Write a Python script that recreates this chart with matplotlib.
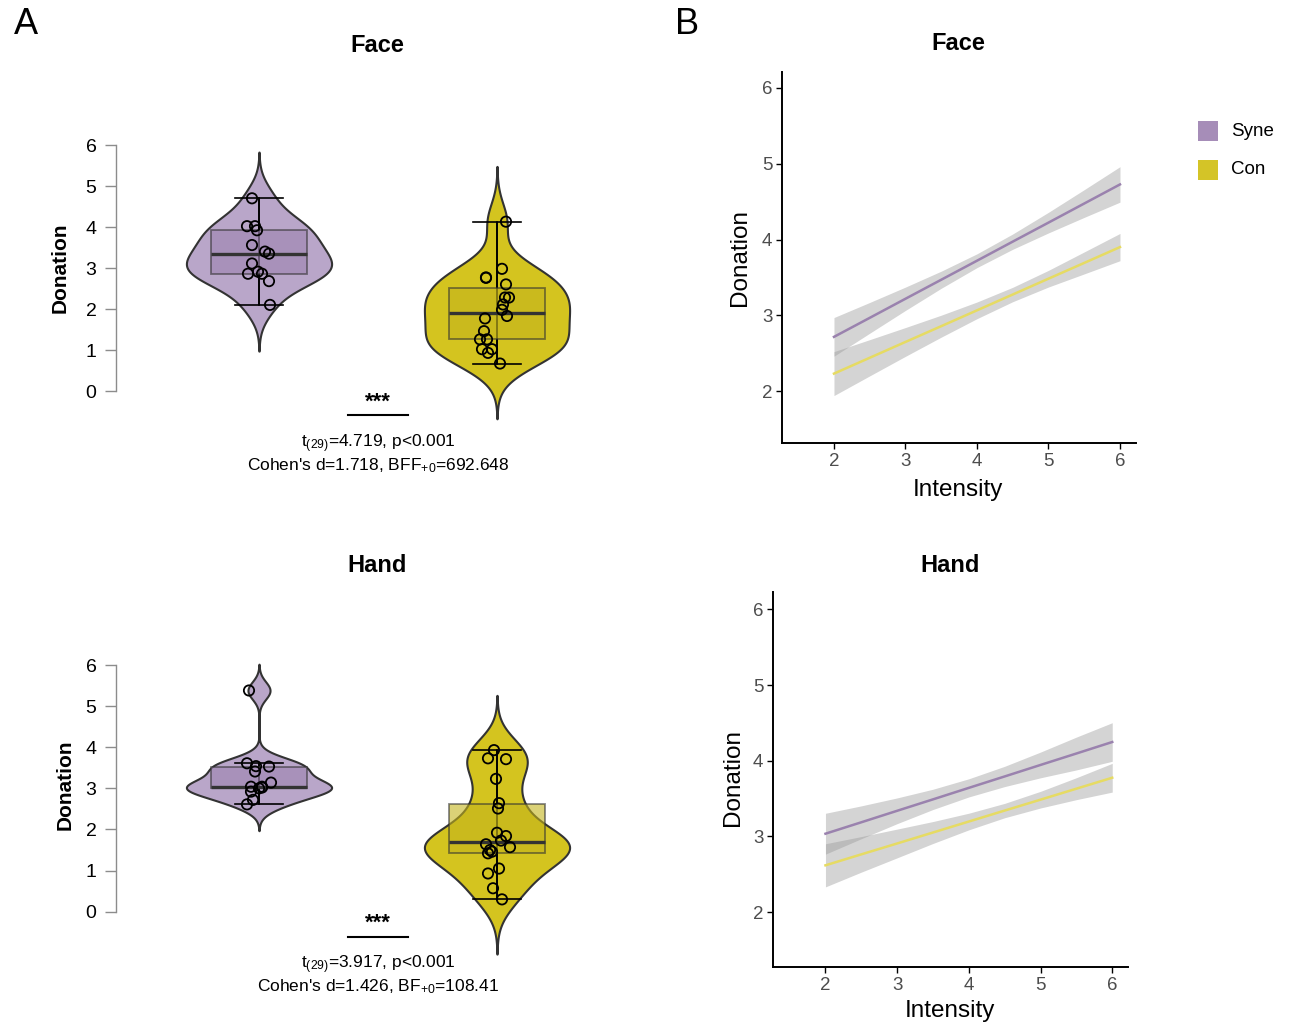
import numpy as np
import matplotlib
matplotlib.use("Agg")
import matplotlib.pyplot as plt
from matplotlib.lines import Line2D

plt.rcParams.update({"font.family": ["Liberation Sans", "DejaVu Sans"], "mathtext.default": "regular"})

W, H = 1291, 1023
SYNE_V = "#B9A6C9"; SYNE_B = "#9D84B0"; CON_V = "#D4C41F"; CON_B = "#C4B41C"
SYNE_L = "#9A82AE"; CON_L = "#E6DB63"; SYNE_LEG = "#A68DB8"; CON_LEG = "#D4C427"
EDGE = "#333333"

groups = ["Syne", "Con"]

# ---- panel A: individual donations (value, jitter offset in px)
face_syne = [4.70, 4.02, 4.02, 3.92, 3.56, 3.40, 3.35, 3.11, 2.86, 2.91, 2.86, 2.68, 2.10]
face_syne_dx = [-7, -12, -4, -2, -7, 6, 10, -7, -11, -1, 3, 10, 11]
face_con = [4.13, 2.76, 2.77, 2.98, 2.60, 2.28, 2.28, 2.11, 1.98, 1.83, 1.77, 1.46, 1.26, 1.26, 1.02, 1.02, 0.93, 0.67]
face_con_dx = [9, -11, -11, 5, 9, 8, 12, 6, 5, 10, -12, -13, -17, -10, -5, -15, -9, 3]
hand_syne = [5.38, 3.61, 3.54, 3.53, 3.41, 3.14, 3.04, 3.04, 3.00, 3.02, 2.92, 2.72, 2.61]
hand_syne_dx = [-10, -12, -3, 10, -4, 12, 3, -8, 0, 3, -8, -6, -12]
hand_con = [3.93, 3.73, 3.71, 3.23, 2.64, 2.51, 1.92, 1.84, 1.73, 1.64, 1.57, 1.50, 1.46, 1.42, 1.05, 0.93, 0.57, 0.30]
hand_con_dx = [-3, -9, 9, -1, 2, 1, 0, 9, 4, -11, 13, -7, -5, -9, 2, -9, -4, 5]

# ---- panel B: fitted lines and 95% bands read at these intensities
intensity = [2, 2.5, 3, 3.5, 4, 4.5, 5, 5.5, 6]
face_syne_fit = [2.715, 2.966, 3.218, 3.469, 3.72, 3.972, 4.223, 4.475, 4.727]
face_syne_hw = [0.255, 0.203, 0.154, 0.113, 0.091, 0.101, 0.136, 0.183, 0.234]
face_con_fit = [2.23, 2.439, 2.648, 2.856, 3.065, 3.274, 3.483, 3.691, 3.90]
face_con_hw = [0.29, 0.239, 0.19, 0.145, 0.11, 0.095, 0.11, 0.145, 0.18]
hand_syne_fit = [3.035, 3.186, 3.338, 3.489, 3.641, 3.792, 3.944, 4.095, 4.247]
hand_syne_hw = [0.27, 0.217, 0.17, 0.134, 0.12, 0.134, 0.17, 0.217, 0.255]
hand_con_fit = [2.617, 2.762, 2.906, 3.051, 3.196, 3.341, 3.485, 3.630, 3.775]
hand_con_hw = [0.285, 0.235, 0.19, 0.145, 0.11, 0.095, 0.11, 0.145, 0.19]

fig = plt.figure(figsize=(W / 100, H / 100), dpi=100)

def px_axes(l, t, r, b):
    return fig.add_axes([l / W, 1 - b / H, (r - l) / W, (b - t) / H])

def ftext(x, y, s, **kw):
    fig.text(x / W, 1 - y / H, s, ha=kw.pop("ha", "center"), va=kw.pop("va", "center"), **kw)

def nrd0(v):
    v = np.asarray(v)
    iqr = np.subtract(*np.percentile(v, [75, 25]))
    return 0.9 * min(v.std(ddof=1), iqr / 1.34) * len(v) ** -0.2

PXU = 238.0  # px per category unit

def violin_panel(l, t, r, b, zero_px, six_px, data, dxs):
    ax = px_axes(l, t, r, b)
    upx = (zero_px - six_px) / 6
    ax.set_xlim(1 + (l - 259) / PXU, 1 + (r - 259) / PXU)
    ax.set_ylim(-(b - zero_px) / upx, (zero_px - t) / upx)
    for i, (vals, dx, vc, bc) in enumerate(zip(data, dxs, [SYNE_V, CON_V], [SYNE_B, CON_B])):
        pos = i + 1
        bw = nrd0(vals)
        grid = np.linspace(min(vals) - 3 * bw, max(vals) + 3 * bw, 400)
        dens = np.exp(-0.5 * ((grid[:, None] - np.array(vals)[None, :]) / bw) ** 2).sum(axis=1)
        half = dens / dens.max() * 0.305
        ax.fill_betweenx(grid, pos - half, pos + half, facecolor=vc, edgecolor=EDGE, lw=1.5, zorder=1)
        bp = ax.boxplot([vals], positions=[pos], widths=0.40, patch_artist=True, showfliers=False,
                        capwidths=0.2, manage_ticks=False)
        lo = bp["whiskers"][0].get_ydata()[1]; hi = bp["whiskers"][1].get_ydata()[1]
        ax.vlines(pos, lo, hi, color="black", lw=1.2, zorder=2)
        for w in bp["whiskers"] + bp["caps"]:
            w.set(color="black", lw=1.2, zorder=2)
        bp["boxes"][0].set(facecolor=bc, alpha=0.6, edgecolor=EDGE, lw=1.3, zorder=3)
        bp["medians"][0].set(color=EDGE, lw=2.4, zorder=4)
        ax.scatter(pos + np.array(dx) / PXU, vals, s=55, facecolor="none", edgecolor="black", lw=1.3, zorder=5)
    for s in ["top", "right", "bottom"]:
        ax.spines[s].set_visible(False)
    ax.spines["left"].set_bounds(0, 6)
    ax.spines["left"].set_color("#8C8C8C")
    ax.spines["left"].set_linewidth(1.0)
    ax.set_yticks(range(7))
    ax.tick_params(axis="y", length=8, width=1.0, color="#8C8C8C", pad=6, labelsize=14)
    ax.set_xticks([])
    return ax

violin_panel(116, 110, 600, 445, 391, 145, [face_syne, face_con], [face_syne_dx, face_con_dx])
violin_panel(116, 630, 600, 965, 911.7, 665, [hand_syne, hand_con], [hand_syne_dx, hand_con_dx])

# annotations panel A
ftext(377, 45, "Face", fontsize=17, fontweight="bold")
ftext(377, 565, "Hand", fontsize=17, fontweight="bold")
ftext(60, 268, "Donation", fontsize=15, fontweight="bold", rotation=90)
ftext(65, 785, "Donation", fontsize=15, fontweight="bold", rotation=90)
for ys, yl, l1, l2 in [(402, 415, "t$_{(29)}$=4.719, p<0.001", "Cohen's d=1.718, BFF$_{+0}$=692.648"),
                       (923, 937, "t$_{(29)}$=3.917, p<0.001", "Cohen's d=1.426, BF$_{+0}$=108.41")]:
    ftext(378, ys, "***", fontsize=16, fontweight="bold")
    fig.add_artist(Line2D([348 / W, 408 / W], [1 - yl / H, 1 - yl / H], color="black", lw=1.5))
    ftext(378, ys + 42, l1, fontsize=12.5)
    ftext(378, ys + 64, l2, fontsize=12.5)

ftext(26, 24, "A", fontsize=26)
ftext(687, 24, "B", fontsize=26)

# ---- panel B
def line_panel(l, t, r, b, xlim, ylim, fits):
    ax = px_axes(l, t, r, b)
    x = np.array(intensity)
    for fit, hw, lc in fits:
        fit = np.array(fit); hw = np.array(hw)
        ax.fill_between(x, fit - hw, fit + hw, color="#999999", alpha=0.42, lw=0, zorder=1)
        ax.plot(x, fit, color=lc, lw=1.8, zorder=2)
    ax.set_xlim(*xlim); ax.set_ylim(*ylim)
    ax.set_xticks(range(2, 7)); ax.set_yticks(range(2, 7))
    for s in ["top", "right"]:
        ax.spines[s].set_visible(False)
    for s in ["left", "bottom"]:
        ax.spines[s].set_linewidth(1.4)
    ax.tick_params(length=4, width=1.0, pad=3, labelsize=13.5, labelcolor="#4D4D4D")
    return ax

line_panel(782, 72, 1136, 443, (1.273, 6.224), (1.314, 6.211),
           [(face_syne_fit, face_syne_hw, SYNE_L), (face_con_fit, face_con_hw, CON_L)])
line_panel(773, 592, 1128, 967, (1.268, 6.22), (1.273, 6.23),
           [(hand_syne_fit, hand_syne_hw, SYNE_L), (hand_con_fit, hand_con_hw, CON_L)])

ftext(958, 44, "Face", fontsize=17, fontweight="bold")
ftext(950, 565, "Hand", fontsize=17, fontweight="bold")
ftext(740, 258, "Donation", fontsize=17.5, rotation=90)
ftext(733, 778, "Donation", fontsize=17.5, rotation=90)
ftext(958, 490, "Intensity", fontsize=17.5)
ftext(950, 1011, "Intensity", fontsize=17.5)

# legend
for y, c, name in [(131, SYNE_LEG, "Syne"), (170, CON_LEG, "Con")]:
    fig.patches.append(plt.Rectangle((1198 / W, 1 - (y + 10) / H), 20 / W, 20 / H, transform=fig.transFigure,
                                     facecolor=c, edgecolor="none"))
    ftext(1231, y, name, fontsize=13.5, ha="left")

fig.savefig("out.png", dpi=100)
